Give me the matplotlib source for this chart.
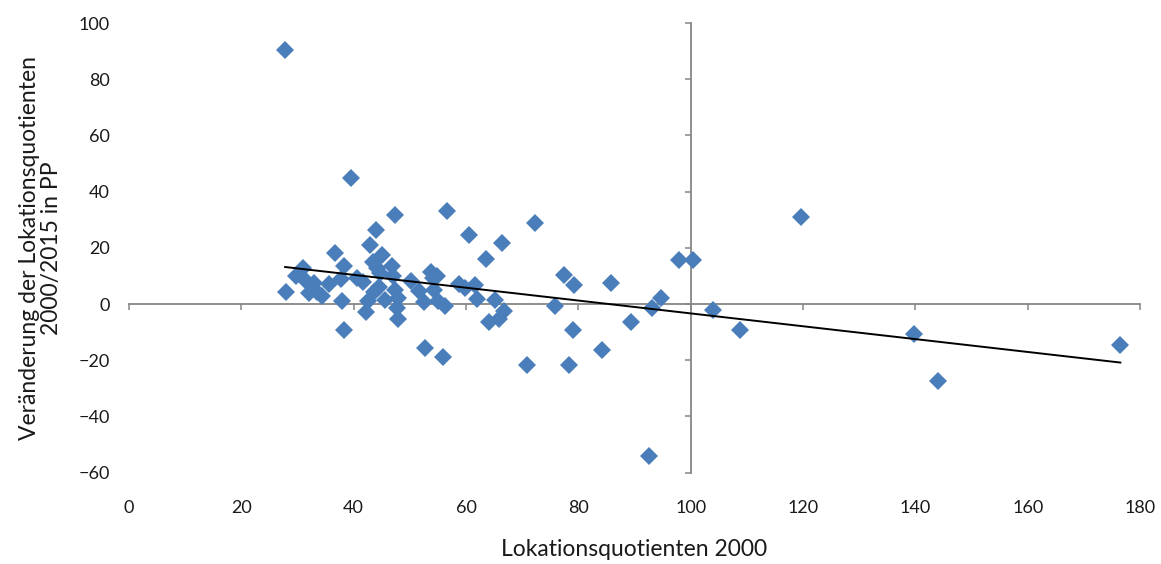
import numpy as np
import matplotlib
matplotlib.use("Agg")
import matplotlib.pyplot as plt

plt.rcParams['font.family'] = ['Lato', 'DejaVu Sans']

# Lokationsquotienten 2000 (x) and change 2000/2015 in PP (y)
lq_2000 = [27.8, 28.0, 29.7, 31.0, 31.3, 32.0, 33.0, 33.5, 34.3, 35.6,
           36.7, 37.7, 38.3, 37.9, 38.3, 39.5, 40.6, 41.6, 42.2, 42.5,
           42.9, 43.4, 43.6, 44.0, 44.1, 44.5, 44.7, 45.0, 45.5, 46.8,
           47.3, 47.0, 47.3, 47.7, 47.9, 47.9, 50.2, 51.6, 52.5, 52.7,
           53.7, 54.1, 54.3, 54.8, 55.0, 55.9, 56.2, 56.6, 58.7, 59.9,
           60.5, 61.6, 61.9, 63.5, 64.1, 65.1, 65.8, 66.5, 66.7, 70.8,
           72.2, 75.8, 77.4, 78.3, 79.0, 79.2, 84.3, 85.9, 89.3, 92.5,
           93.2, 94.8, 97.9, 100.4, 103.9, 108.7, 119.6, 139.7, 144.0, 176.5]
change_pp = [90.5, 4.2, 9.9, 12.7, 8.5, 3.9, 7.4, 4.2, 2.8, 7.0,
             18.0, 8.8, 13.7, 1.0, -9.2, 45.0, 9.2, 7.7, -2.8, 1.0,
             21.0, 15.1, 4.2, 26.4, 13.0, 6.0, 10.9, 17.6, 1.4, 13.4,
             31.7, 9.9, 4.9, -1.4, -5.3, 2.1, 8.1, 4.6, 0.7, -15.5,
             11.3, 9.2, 4.9, 9.9, 1.0, -19.0, -0.7, 33.0, 7.0, 5.6,
             24.6, 6.7, 1.8, 16.2, -6.3, 1.4, -5.3, 21.8, -2.5, -21.8,
             28.9, -0.7, 10.2, -21.8, -9.2, 6.7, -16.2, 7.4, -6.3, -53.9,
             -1.4, 2.1, 15.5, 15.5, -2.1, -9.2, 31.0, -10.6, -27.5, -14.4]

x_ticks = [0, 20, 40, 60, 80, 100, 120, 140, 160, 180]
y_ticks = [-60, -40, -20, 0, 20, 40, 60, 80, 100]

axis_grey = '#868686'
point_blue = '#4A7EBB'
text_col = '#1a1a1a'

fig = plt.figure(figsize=(11.61, 5.64), dpi=100)
ax = fig.add_axes([0.1111, 0.1619, 0.8708, 0.7973])

x = np.array(lq_2000)
y = np.array(change_pp)
ax.plot(x, y, linestyle='none', marker='D', markersize=9,
        color=point_blue, markeredgewidth=0, zorder=3)

# linear trend line
slope, intercept = np.polyfit(x, y, 1)
xl = np.array([x.min(), x.max()])
ax.plot(xl, slope * xl + intercept, color='black', linewidth=1.4, zorder=4)

ax.set_xlim(x_ticks[0], x_ticks[-1])
ax.set_ylim(y_ticks[0], y_ticks[-1])

# axes cross at (100, 0)
ax.spines['left'].set_position(('data', 100))
ax.spines['bottom'].set_position(('data', 0))
ax.spines['right'].set_visible(False)
ax.spines['top'].set_visible(False)
for s in ('left', 'bottom'):
    ax.spines[s].set_color(axis_grey)
    ax.spines[s].set_linewidth(1.3)
ax.set_xticks(x_ticks)
ax.set_yticks(y_ticks)
ax.tick_params(direction='out', length=4, width=1.1, color=axis_grey,
               labelleft=False, labelbottom=False)

# tick labels at the low edges of the plot area
secx = ax.secondary_xaxis('bottom')
secx.set_xticks(x_ticks)
secx.spines['bottom'].set_visible(False)
secx.tick_params(length=0, pad=20, labelsize=13, labelcolor=text_col)
secx.set_xlabel('Lokationsquotienten 2000', fontsize=16.5, labelpad=16,
                color=text_col)

secy = ax.secondary_yaxis('left')
secy.set_yticks(y_ticks)
secy.spines['left'].set_visible(False)
secy.tick_params(length=0, pad=14, labelsize=13, labelcolor=text_col)
secy.set_ylabel('Veränderung der Lokationsquotienten\n2000/2015 in PP',
                fontsize=16.5, labelpad=12, color=text_col, linespacing=1.05)

fig.savefig('out.png', dpi=100)
